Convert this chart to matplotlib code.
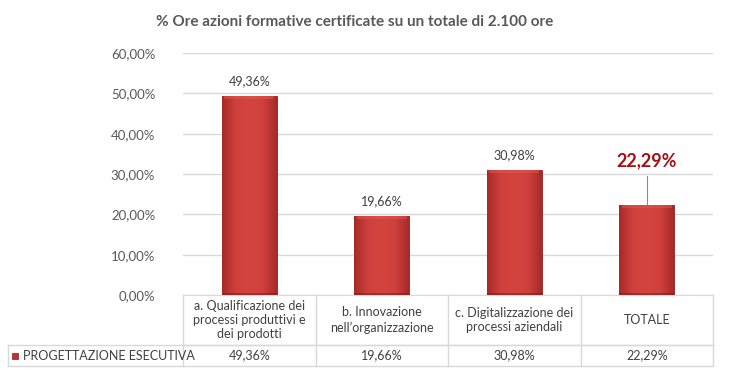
import numpy as np
import matplotlib
matplotlib.use("Agg")
from matplotlib import pyplot as plt
from matplotlib.colors import LinearSegmentedColormap

plt.rcParams['font.family'] = ['Lato', 'DejaVu Sans']

# dati
titolo = "% Ore azioni formative certificate su un totale di 2.100 ore"
categorie = ["a. Qualificazione dei\nprocessi produttivi e\ndei prodotti",
             "b. Innovazione\nnell\u2019organizzazione",
             "c. Digitalizzazione dei\nprocessi aziendali",
             "TOTALE"]
serie_nome = "PROGETTAZIONE ESECUTIVA"
valori = [49.36, 19.66, 30.98, 22.29]
y_ticks = [0, 10, 20, 30, 40, 50, 60]


def fmt(v):
    return ("%.2f%%" % v).replace(".", ",")


grigio = "#595959"
linea = "#D9D9D9"

fig = plt.figure(figsize=(7.29, 3.75), dpi=100)
ax = fig.add_axes([183 / 729, 1 - 295 / 375, 530 / 729, 242 / 375])

x = np.arange(len(valori))
larg = 0.415
bars = ax.bar(x, valori, width=larg, color="#CC3A38", edgecolor="#8E1F1E",
              linewidth=0.6, zorder=3)

# gradiente per effetto smussato
cmap_h = LinearSegmentedColormap.from_list(
    "h", ["#A82A28", "#CF403D", "#D4443F", "#CF403D", "#A82A28"])
grad = np.linspace(0, 1, 64).reshape(1, -1)
for b in bars:
    x0, y0 = b.get_x(), b.get_y()
    w, h = b.get_width(), b.get_height()
    im = ax.imshow(grad, cmap=cmap_h, aspect="auto", zorder=3.5,
                   extent=[x0, x0 + w, y0, y0 + h], interpolation="bicubic")
    im.set_clip_path(b)
    # bordo superiore chiaro
    ax.fill_between([x0 + 0.02, x0 + w - 0.02], y0 + h - 0.7, y0 + h,
                    color="#E0584F", alpha=0.5, zorder=3.6, linewidth=0)
    # bordo inferiore scuro
    ax.fill_between([x0, x0 + w], y0, y0 + 0.6, color="#7A1A19",
                    alpha=0.5, zorder=3.6, linewidth=0)

ax.set_xlim(-0.5, len(valori) - 0.5)
ax.set_ylim(0, 60)
ax.set_yticks(y_ticks)
ax.set_yticklabels([fmt(v) for v in y_ticks], color=grigio, fontsize=9.5)
ax.set_xticks([])
ax.tick_params(axis="y", length=0, pad=20)
ax.grid(axis="y", color=linea, linewidth=1, zorder=0)
for s in ["top", "right", "left"]:
    ax.spines[s].set_visible(False)
ax.spines["bottom"].set_color(linea)

# etichette dati
for i, v in enumerate(valori[:-1]):
    ax.text(i, v + 2.2, fmt(v), ha="center", va="bottom", fontsize=9,
            color="#404040")
ax.text(x[-1], 33.2, fmt(valori[-1]), ha="center", va="center", fontsize=13,
        fontweight="bold", color="#A50F15")
ax.plot([x[-1], x[-1]], [valori[-1], 29.5], color="#8C8C8C", linewidth=0.8,
        zorder=2)

fig.text(355 / 729, 1 - 22 / 375, titolo, ha="center", va="center",
         fontsize=11, fontweight="bold", color=grigio)

# tabella dati
r1 = -50 / 242
r2 = -71 / 242
sx = -0.5 - (183 - 8) / 132.5
kw = dict(color=linea, linewidth=1, clip_on=False, zorder=1)
ax.plot([-0.5, 3.5], [r1 * 60, r1 * 60], **kw)
ax.plot([sx, 3.5], [r1 * 60, r1 * 60], **kw)
ax.plot([sx, 3.5], [r2 * 60, r2 * 60], **kw)
ax.plot([sx, sx], [r1 * 60, r2 * 60], **kw)
for k in range(len(valori) + 1):
    ax.plot([k - 0.5, k - 0.5], [0, r2 * 60], **kw)

for i, c in enumerate(categorie):
    ax.text(i, r1 * 30, c, ha="center", va="center", fontsize=9,
            color="#404040", linespacing=1.25, clip_on=False)
    ax.text(i, (r1 + r2) * 30, fmt(valori[i]), ha="center", va="center",
            fontsize=9, color="#404040", clip_on=False)

ym = (r1 + r2) * 30
ax.scatter([sx + 0.05], [ym], marker="s", s=22, color="#C0302E",
           edgecolor="#8E1F1E", linewidth=0.5, clip_on=False, zorder=5)
ax.text(sx + 0.11, ym, serie_nome, ha="left", va="center", fontsize=9,
        color="#404040", clip_on=False)

fig.savefig("out.png", dpi=100)
